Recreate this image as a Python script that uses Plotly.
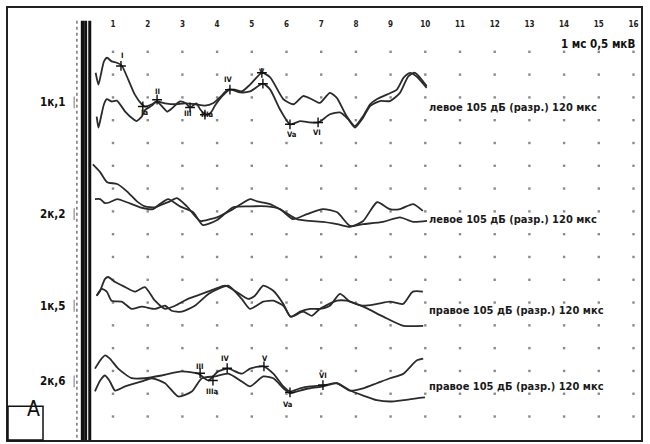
import plotly.graph_objects as go

# ---------------- data (time in ms, amplitude in µV relative to channel baseline) -------------
channel_names = ["1к,1", "2к,2", "1к,5", "2к,6"]
channel_offsets = [-1.11, -3.56, -5.57, -7.23]   # µV position of each channel baseline
side_texts = ["левое 105 дБ (разр.) 120 мкс", "левое 105 дБ (разр.) 120 мкс",
              "правое 105 дБ (разр.) 120 мкс", "правое 105 дБ (разр.) 120 мкс"]
tick_ms = list(range(1, 17))
tick_labels = [str(v) for v in tick_ms]

ch1_a_t = [0.50, 0.58, 0.65, 0.74, 0.83, 0.96, 1.11, 1.25, 1.44, 1.63, 1.83, 1.92, 2.12, 2.26, 2.50, 2.79,
           3.08, 3.37, 3.65, 3.88, 4.08, 4.31, 4.51, 4.71, 4.95, 5.29, 5.53, 5.91, 6.20, 6.48, 6.73, 6.96,
           7.25, 7.45, 7.73, 7.97, 8.21, 8.41, 8.60, 8.89, 9.18, 9.37, 9.56, 9.75, 10.04]
ch1_a_v = [0.65, 0.39, 0.61, 0.90, 0.98, 0.90, 0.87, 0.81, 0.50, 0.17, -0.04, -0.09, -0.04, 0.02, -0.02, -0.04,
           -0.02, -0.04, -0.07, -0.02, 0.11, 0.28, 0.28, 0.24, 0.39, 0.65, 0.55, 0.07, -0.04, 0.14, 0.07, -0.01,
           0.21, 0.10, -0.30, -0.52, -0.30, -0.04, 0.07, 0.17, 0.28, 0.54, 0.65, 0.57, 0.32]
ch1_b_t = [0.53, 0.58, 0.65, 0.74, 0.82, 0.96, 1.11, 1.35, 1.59, 1.68, 1.83, 1.92, 2.12, 2.26, 2.44, 2.56,
           2.70, 2.93, 3.10, 3.22, 3.40, 3.51, 3.66, 3.80, 3.94, 4.14, 4.37, 4.66, 4.95, 5.32, 5.53, 5.81,
           6.10, 6.39, 6.68, 6.92, 7.25, 7.54, 7.78, 7.97, 8.21, 8.41, 8.69, 8.98, 9.27, 9.51, 9.70, 10.04]
ch1_b_v = [-0.31, -0.55, -0.33, -0.04, 0.07, 0.02, 0.04, -0.20, -0.37, -0.41, -0.31, -0.17, -0.07, 0.02, -0.11, -0.20,
           -0.13, 0.02, -0.02, -0.11, -0.02, -0.15, -0.26, -0.24, -0.07, 0.13, 0.28, 0.22, 0.24, 0.41, 0.28, -0.15,
           -0.48, -0.41, -0.44, -0.44, -0.26, -0.22, -0.37, -0.55, -0.33, -0.08, 0.03, 0.03, 0.21, 0.57, 0.65, 0.36]

ch2_a_t = [0.42, 0.63, 0.83, 1.12, 1.40, 1.69, 1.92, 2.21, 2.44, 2.64, 2.84, 3.13, 3.51, 3.80, 4.00, 4.46,
           4.95, 5.15, 5.53, 5.90, 6.30, 6.68, 7.05, 7.46, 7.83, 8.21, 8.61, 8.98, 9.27, 9.65, 9.93]
ch2_a_v = [1.09, 0.92, 0.70, 0.66, 0.50, 0.28, 0.17, 0.15, 0.22, 0.28, 0.35, 0.17, -0.15, -0.11, -0.07, 0.11,
           0.33, 0.28, 0.22, 0.07, -0.11, -0.15, -0.17, -0.22, -0.28, -0.15, 0.26, 0.11, 0.11, 0.22, 0.07]
ch2_b_t = [0.48, 0.63, 0.77, 0.91, 1.12, 1.40, 1.78, 2.15, 2.35, 2.59, 2.93, 3.31, 3.59, 4.00, 4.46, 4.95,
           5.44, 5.81, 6.19, 6.59, 7.05, 7.46, 7.83, 8.21, 8.78, 9.27, 9.65, 10.05]
ch2_b_v = [0.33, 0.33, 0.24, 0.26, 0.33, 0.26, 0.15, 0.11, 0.22, 0.33, 0.17, 0.04, -0.24, -0.13, 0.15, 0.17,
           0.17, 0.11, -0.11, 0.00, 0.11, 0.04, -0.26, -0.22, -0.17, -0.07, -0.17, -0.15]

ch3_a_t = [0.53, 0.63, 0.77, 0.86, 1.06, 1.35, 1.63, 1.92, 2.21, 2.50, 2.79, 3.16, 3.56, 3.94, 4.23, 4.51,
           4.89, 5.09, 5.33, 5.62, 5.91, 6.12, 6.39, 6.68, 6.96, 7.25, 7.54, 7.83, 8.20, 8.61, 8.98, 9.36, 9.64, 9.93]
ch3_a_v = [0.22, 0.33, 0.59, 0.63, 0.52, 0.41, 0.31, 0.41, 0.11, -0.07, 0.00, 0.15, 0.26, 0.37, 0.44, 0.33,
           0.15, 0.22, 0.44, 0.33, 0.04, -0.24, -0.13, -0.07, -0.07, 0.00, 0.26, 0.09, 0.00, 0.04, 0.09, 0.04, 0.31, 0.31]
ch3_b_t = [0.53, 0.67, 0.82, 0.96, 1.25, 1.54, 1.83, 2.21, 2.50, 2.69, 2.98, 3.36, 3.75, 4.03, 4.32, 4.71,
           4.95, 5.33, 5.62, 5.91, 6.12, 6.48, 6.73, 6.96, 7.45, 7.73, 8.21, 8.79, 9.37, 9.94]
ch3_b_v = [0.22, 0.37, 0.31, 0.11, 0.09, -0.07, -0.02, -0.07, 0.00, -0.11, -0.13, 0.00, 0.26, 0.37, 0.44, 0.15,
           -0.07, 0.09, 0.11, 0.00, -0.24, -0.13, -0.22, -0.07, 0.11, 0.11, -0.02, -0.24, -0.44, -0.44]

ch4_a_t = [0.48, 0.63, 0.77, 0.91, 1.15, 1.54, 1.92, 2.40, 2.98, 3.46, 3.75, 4.03, 4.32, 4.71, 4.95, 5.33,
           5.62, 5.91, 6.10, 6.39, 6.68, 7.06, 7.45, 7.83, 8.21, 8.60, 8.98, 9.37, 9.75, 9.94]
ch4_a_v = [0.28, 0.46, 0.57, 0.50, 0.28, 0.07, 0.07, 0.13, 0.22, 0.17, 0.02, 0.22, 0.28, 0.17, 0.28, 0.33,
           0.17, -0.11, -0.22, -0.15, -0.11, -0.09, -0.04, -0.20, -0.15, -0.04, 0.07, 0.17, 0.46, 0.50]
ch4_b_t = [0.48, 0.63, 0.77, 0.91, 1.06, 1.35, 1.83, 2.12, 2.50, 2.88, 3.27, 3.56, 3.94, 4.32, 4.71, 4.95,
           5.33, 5.62, 5.91, 6.10, 6.39, 6.68, 7.06, 7.45, 7.83, 8.21, 8.60, 8.98, 9.37, 9.75, 9.99]
ch4_b_v = [-0.22, 0.02, 0.13, 0.00, -0.20, -0.11, 0.00, 0.07, -0.04, -0.33, -0.22, 0.07, 0.11, 0.17, 0.00, -0.11,
           0.11, 0.07, -0.15, -0.26, -0.20, -0.15, -0.11, -0.04, -0.20, -0.31, -0.41, -0.44, -0.41, -0.37, -0.35]

# stimulus artefact (off-scale vertical strokes), ms
artifact_ms = [0.13, 0.22, 0.33]
artifact_top = 0.68

# peak labels (ms, absolute µV on the sheet)
peak_names = ["I", "II", "Ia", "III", "IIIa", "IV", "V", "Va", "VI",
              "III", "IIIa", "IV", "V", "Va", "VI"]
peak_label_t = [1.26, 2.27, 1.92, 3.16, 3.71, 4.34, 5.29, 6.16, 6.88,
                3.51, 3.88, 4.23, 5.38, 6.04, 7.05]
peak_label_v = [-0.09, -0.87, -1.33, -1.35, -1.38, -0.61, -0.44, -1.81, -1.77,
                -6.90, -7.45, -6.72, -6.72, -7.73, -7.10]
cross_t = [1.23, 1.86, 2.27, 3.22, 3.65, 4.37, 5.29, 5.32, 6.10, 6.91,
           3.51, 3.88, 4.29, 5.35, 6.10, 7.05]
cross_v = [-0.31, -1.20, -1.05, -1.22, -1.38, -0.83, -0.46, -0.70, -1.59, -1.55,
           -7.05, -7.21, -6.94, -6.90, -7.47, -7.31]

grid_rows = [-0.5 * k for k in range(17)]

# ---------------- figure ----------------
fig = go.Figure()
INK = "#2b2b2b"
CF = "DejaVu Sans Condensed, Liberation Sans Narrow, Arial Narrow, DejaVu Sans, sans-serif"

# dotted grid
gx, gy = [], []
for r in grid_rows:
    for t in tick_ms:
        gx.append(t)
        gy.append(r)
fig.add_trace(go.Scatter(x=gx, y=gy, mode="markers", hoverinfo="skip",
                         marker=dict(size=2.4, color="#8a8a8a", symbol="square"), showlegend=False))

# artefact strokes
for t, w in zip(artifact_ms, [4.0, 2.4, 3.0]):
    fig.add_trace(go.Scatter(x=[t, t], y=[artifact_top, -8.6], mode="lines",
                             line=dict(color="#111", width=w), hoverinfo="skip", showlegend=False))

curves = [
    (ch1_a_t, ch1_a_v, 0), (ch1_b_t, ch1_b_v, 0),
    (ch2_a_t, ch2_a_v, 1), (ch2_b_t, ch2_b_v, 1),
    (ch3_a_t, ch3_a_v, 2), (ch3_b_t, ch3_b_v, 2),
    (ch4_a_t, ch4_a_v, 3), (ch4_b_t, ch4_b_v, 3),
]
for t, v, ci in curves:
    off = channel_offsets[ci]
    fig.add_trace(go.Scatter(x=t, y=[val + off for val in v], mode="lines",
                             line=dict(color=INK, width=1.8, shape="spline", smoothing=0.6),
                             hoverinfo="skip", showlegend=False))

# peak crosses
fig.add_trace(go.Scatter(x=cross_t, y=cross_v, mode="markers", hoverinfo="skip", showlegend=False,
                         marker=dict(symbol="cross-thin", size=7, line=dict(color="#111", width=1.4))))

# peak labels
for name, t, v in zip(peak_names, peak_label_t, peak_label_v):
    fig.add_annotation(x=t, y=v, text=name, showarrow=False,
                       font=dict(size=7.5, color="#111", family=CF, weight="bold"))

# channel labels and small brackets
for name, off in zip(channel_names, channel_offsets):
    fig.add_annotation(x=-0.33, y=off, text=name, showarrow=False, xanchor="right",
                       font=dict(size=11.5, color="#111", family=CF, weight="bold"))
    fig.add_shape(type="line", x0=-0.12, x1=-0.12, y0=off - 0.13, y1=off + 0.13,
                  line=dict(color="#777", width=1))

# right-hand texts
for txt, off in zip(side_texts, channel_offsets):
    fig.add_annotation(x=10.05, y=off - 0.11, text=txt, showarrow=False, xanchor="left",
                       font=dict(size=11, color="#1a1a1a", family=CF, weight="bold"))

# scale text
fig.add_annotation(x=16.1, y=0.175, text="1 мс 0,5 мкВ", showarrow=False, xanchor="right",
                   font=dict(size=11.5, color="#111", family=CF, weight="bold"))

# dotted ruler at time zero
fig.add_shape(type="line", x0=-0.04, x1=-0.04, y0=0.68, y1=-8.6,
              line=dict(color="#555", width=1.2, dash="dot"))

# panel letter box
fig.add_shape(type="rect", xref="paper", yref="paper", x0=0, x1=0.0553, y0=0, y1=0.078,
              line=dict(color="#111", width=1.5), fillcolor="white")
fig.add_annotation(xref="paper", yref="paper", x=0.0276, y=0.039, text="A", showarrow=False,
                   font=dict(size=21, color="#111", family=CF))

fig.update_layout(
    width=650, height=444,
    margin=dict(l=8, r=9, t=8, b=2),
    paper_bgcolor="white", plot_bgcolor="white",
    xaxis=dict(range=[-2.026, 16.216], side="top", tickmode="array", tickvals=tick_ms,
               ticktext=tick_labels, ticklabelposition="inside", ticks="",
               ticklabelstandoff=12,
               tickfont=dict(size=8, color="#222", family=CF, weight="bold"),
               showgrid=False, zeroline=False, showline=True, mirror=True,
               linecolor="#222", linewidth=2, fixedrange=True),
    yaxis=dict(range=[-8.515, 0.961], showticklabels=False, ticks="", showgrid=False,
               zeroline=False, showline=True, mirror=True, linecolor="#222", linewidth=2,
               fixedrange=True),
    showlegend=False,
)

fig.write_html("out.html", config={"displayModeBar": False},
               post_script="document.body.style.margin='0';document.body.style.overflow='hidden';")
